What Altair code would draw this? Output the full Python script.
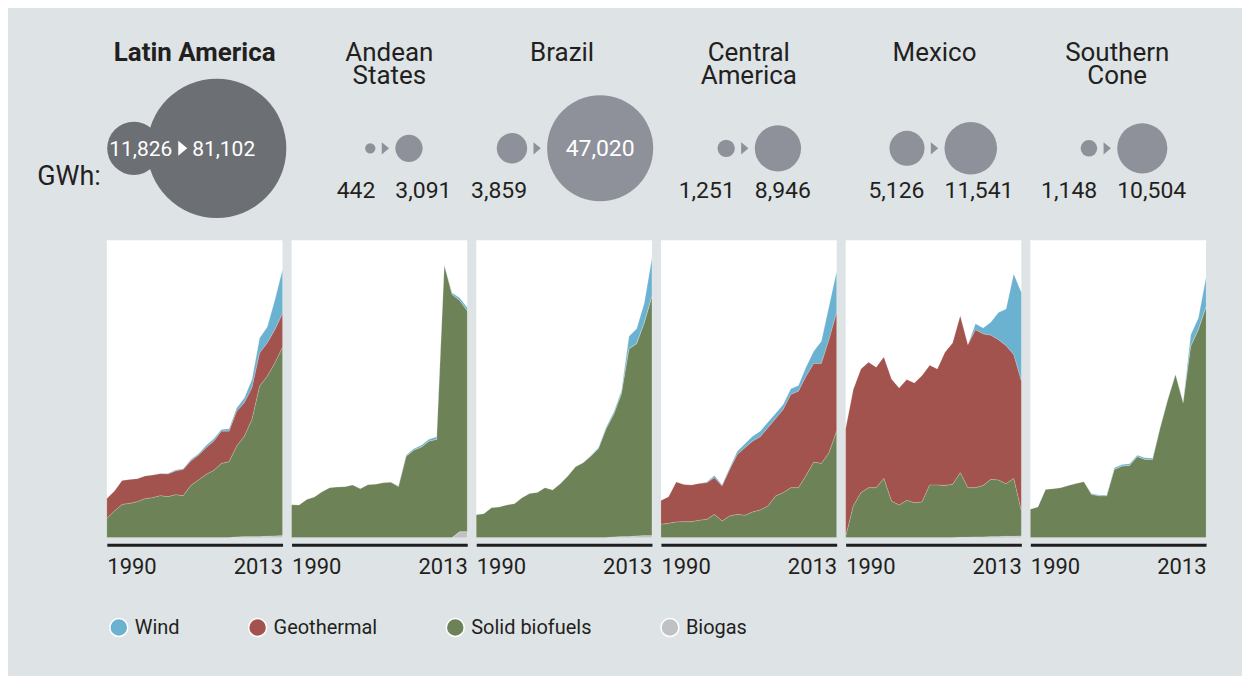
import math
import altair as alt
import pandas as pd

FONT = "Roboto"
TEXT = "#231f20"
BG = "#dee3e6"

years = list(range(1990, 2014))
regions = ["Latin America", "Andean States", "Brazil", "Central America", "Mexico", "Southern Cone"]
titles = ["Latin America", "Andean\nStates", "Brazil", "Central\nAmerica", "Mexico", "Southern\nCone"]
sources = ["Wind", "Geothermal", "Solid biofuels", "Biogas"]
source_colors = ["#6bb2d1", "#a2534d", "#6d8257", "#c0c1c5"]
stack_rank = {"Biogas": 0, "Solid biofuels": 1, "Geothermal": 2, "Wind": 3}

gwh_1990 = [11826, 442, 3859, 1251, 5126, 1148]
gwh_2013 = [81102, 3091, 47020, 8946, 11541, 10504]
y_domain_max = [90000, 4000, 50000, 10000, 14000, 12000]

# ---- Latin America (GWh) ----
la_biofuels = [5830, 8060, 10070, 10370, 10880, 11780, 12080, 12690, 12390, 12990, 12690, 15810,
               17420, 19130, 20340, 22460, 22960, 27490, 30410, 35450, 45520, 48440, 52360, 57000]
la_geothermal = [5996, 6040, 7250, 7250, 6950, 6850, 6850, 6650, 6850, 7150, 7960, 7350,
                 7550, 8060, 8860, 9770, 9260, 10570, 10070, 9570, 10070, 10070, 10070, 10200]
la_wind = [0, 0, 0, 0, 0, 0, 0, 100, 200, 300, 200, 500,
           400, 700, 700, 500, 700, 1000, 1500, 2500, 4530, 4830, 9060, 13302]
la_biogas = [0, 0, 0, 0, 0, 0, 0, 0, 0, 0, 0, 0,
             0, 0, 0, 0, 0, 200, 300, 300, 300, 400, 500, 600]

# ---- Andean States ----
and_biofuels = [442, 440, 515, 546, 617, 671, 680, 685, 707, 658, 711, 720,
                 738, 745, 685, 1090, 1175, 1215, 1295, 1320, 3660, 3270, 3110, 2966]
and_geothermal = [0] * 24
and_wind = [0, 0, 0, 0, 0, 0, 0, 0, 0, 0, 0, 0,
            0, 5, 10, 18, 22, 27, 27, 36, 5, 22, 36, 45]
and_biogas = [0, 0, 0, 0, 0, 0, 0, 0, 0, 0, 0, 0,
              0, 0, 0, 0, 0, 0, 0, 0, 0, 0, 80, 80]

# ---- Brazil ----
bra_biofuels = [3859, 4027, 5034, 5146, 5481, 5705, 6712, 7439, 7606, 8390, 7998, 9061,
                10347, 11913, 12584, 13703, 14933, 18289, 20582, 23938, 31545, 32327, 35739, 40192]
bra_geothermal = [0] * 24
bra_wind = [0, 0, 0, 0, 0, 0, 0, 0, 0, 0, 0, 0,
            0, 0, 0, 90, 240, 280, 447, 559, 2125, 2517, 3356, 6488]
bra_biogas = [0, 0, 0, 0, 0, 0, 0, 0, 0, 0, 0, 0,
              0, 0, 0, 0, 0, 0, 110, 170, 170, 280, 340, 340]

# ---- Central America ----
ca_biofuels = [448, 481, 526, 537, 537, 582, 615, 783, 560, 727, 783, 750,
               862, 929, 1063, 1399, 1511, 1679, 1679, 2093, 2540, 2495, 2853, 3575]
ca_geothermal = [803, 895, 1343, 1253, 1231, 1242, 1231, 1231, 1175, 1567, 2014, 2272,
                 2383, 2462, 2630, 2596, 2798, 3133, 3245, 3335, 3312, 3357, 3805, 3995]
ca_wind = [0, 0, 0, 0, 0, 0, 22, 78, 34, 56, 112, 134,
           168, 190, 190, 179, 168, 190, 190, 313, 414, 750, 1119, 1376]
ca_biogas = [0] * 24

# ---- Mexico ----
mex_biofuels = [31, 1488, 2114, 2349, 2349, 2787, 1723, 1535, 1754, 1644, 1676, 2474,
                2474, 2459, 2506, 3038, 2333, 2318, 2427, 2694, 2662, 2474, 2725, 1175]
mex_geothermal = [5095, 5481, 5825, 5904, 5669, 5716, 5747, 5512, 5685, 5638, 5951, 5638,
                  5465, 6264, 6656, 7392, 6734, 7439, 7125, 6781, 6609, 6499, 5825, 6107]
mex_wind = [0, 0, 0, 0, 0, 0, 0, 0, 0, 0, 0, 0,
            0, 0, 0, 0, 0, 282, 282, 611, 1284, 1723, 3790, 4181]
mex_biogas = [0, 0, 0, 0, 0, 0, 0, 0, 0, 0, 0, 0,
              0, 0, 0, 16, 16, 31, 31, 47, 47, 63, 63, 78]

# ---- Southern Cone ----
sc_biofuels = [1148, 1235, 1946, 1973, 2013, 2107, 2187, 2255, 1745, 1678, 1678, 2751,
               2885, 2912, 3261, 3154, 3154, 4429, 5569, 6576, 5435, 7717, 8388, 9296]
sc_geothermal = [0] * 24
sc_wind = [0, 0, 0, 0, 0, 0, 0, 0, 40, 40, 40, 67,
           67, 67, 67, 67, 54, 40, 27, 27, 40, 470, 470, 1208]
sc_biogas = [0] * 24

series = {
    "Latin America": {"Wind": la_wind, "Geothermal": la_geothermal, "Solid biofuels": la_biofuels, "Biogas": la_biogas},
    "Andean States": {"Wind": and_wind, "Geothermal": and_geothermal, "Solid biofuels": and_biofuels, "Biogas": and_biogas},
    "Brazil": {"Wind": bra_wind, "Geothermal": bra_geothermal, "Solid biofuels": bra_biofuels, "Biogas": bra_biogas},
    "Central America": {"Wind": ca_wind, "Geothermal": ca_geothermal, "Solid biofuels": ca_biofuels, "Biogas": ca_biogas},
    "Mexico": {"Wind": mex_wind, "Geothermal": mex_geothermal, "Solid biofuels": mex_biofuels, "Biogas": mex_biogas},
    "Southern Cone": {"Wind": sc_wind, "Geothermal": sc_geothermal, "Solid biofuels": sc_biofuels, "Biogas": sc_biogas},
}

rows = []
for reg in regions:
    for src in sources:
        for yr, v in zip(years, series[reg][src]):
            rows.append({"region": reg, "source": src, "year": yr, "gwh": v, "rank": stack_rank[src]})
df = pd.DataFrame(rows)

# ---- layout ----
W, HH, AH = 176, 208, 298
K = 0.245                          # px radius per sqrt(GWh)
SIZE_MAX = 4 * K * K * max(gwh_2013)
title_x = [88, 98, 86, 88, 89, 87]
arrow_x = [76, 94, 61, 84, 89, 77]
CIRCLE_Y = 124
LABEL_Y = 174
ARROW = "M-0.6,-1L0.6,0L-0.6,1Z"

size_scale = alt.Scale(domain=[0, max(gwh_2013)], range=[0, SIZE_MAX])


def header(i):
    v1, v2 = gwh_1990[i], gwh_2013[i]
    r1, r2 = K * math.sqrt(v1), K * math.sqrt(v2)
    a = arrow_x[i]
    if i == 0:
        c1, c2 = 27, 110
        fill = "#6c6f73"
    else:
        c1, c2 = a - 10 - r1, a + 10 + r2
        fill = "#8e9199"
    circ = pd.DataFrame({"cx": [c1, c2], "v": [v1, v2]})
    layers = []
    layers.append(
        alt.Chart(circ).mark_circle(opacity=1, color=fill).encode(
            x=alt.X("cx:Q", scale=None, axis=None),
            y=alt.value(CIRCLE_Y),
            size=alt.Size("v:Q", scale=size_scale, legend=None),
        )
    )
    arrow_df = pd.DataFrame({"ax": [a]})
    layers.append(
        alt.Chart(arrow_df).mark_point(
            shape=ARROW, filled=True, opacity=1,
            color="white" if i == 0 else fill,
            size=225 if i == 0 else 150,
        ).encode(x=alt.X("ax:Q", scale=None, axis=None), y=alt.value(CIRCLE_Y))
    )
    # title
    layers.append(
        alt.Chart(pd.DataFrame({"t": [titles[i]]})).mark_text(
            font=FONT, fontSize=26, fontWeight="bold" if i == 0 else "normal",
            color=TEXT, align="center", baseline="alphabetic", lineBreak="\n", lineHeight=23,
        ).encode(text="t:N", x=alt.value(title_x[i]), y=alt.value(37))
    )
    if i == 0:
        lab = pd.DataFrame({"lx": [34, 117], "v": [v1, v2]})
        layers.append(
            alt.Chart(lab).mark_text(font=FONT, fontSize=21, color="white", align="center",
                                     baseline="alphabetic").encode(
                x=alt.X("lx:Q", scale=None, axis=None), y=alt.value(CIRCLE_Y + 8),
                text=alt.Text("v:Q", format=","))
        )
        layers.append(
            alt.Chart(pd.DataFrame({"t": ["GWh:"]})).mark_text(
                font=FONT, fontSize=27, color=TEXT, align="right", baseline="alphabetic"
            ).encode(text="t:N", x=alt.value(-6), y=alt.value(161))
        )
    else:
        left = pd.DataFrame({"lx": [a - 10], "v": [v1]})
        layers.append(
            alt.Chart(left).mark_text(font=FONT, fontSize=23, color=TEXT, align="right",
                                      baseline="alphabetic").encode(
                x=alt.X("lx:Q", scale=None, axis=None), y=alt.value(LABEL_Y),
                text=alt.Text("v:Q", format=","))
        )
        if i == 2:
            right = pd.DataFrame({"lx": [c2], "v": [v2]})
            layers.append(
                alt.Chart(right).mark_text(font=FONT, fontSize=23, color="white", align="center",
                                           baseline="alphabetic").encode(
                    x=alt.X("lx:Q", scale=None, axis=None), y=alt.value(CIRCLE_Y + 8),
                    text=alt.Text("v:Q", format=","))
            )
        else:
            right = pd.DataFrame({"lx": [a + 10], "v": [v2]})
            layers.append(
                alt.Chart(right).mark_text(font=FONT, fontSize=23, color=TEXT, align="left",
                                           baseline="alphabetic").encode(
                    x=alt.X("lx:Q", scale=None, axis=None), y=alt.value(LABEL_Y),
                    text=alt.Text("v:Q", format=","))
            )
    return alt.layer(*layers).properties(width=W, height=HH, view=alt.ViewBackground(strokeWidth=0))


legend = alt.Legend(
    orient="none", legendX=2, legendY=594, direction="horizontal", title=None,
    symbolType="circle", symbolSize=324, symbolOpacity=1, symbolStrokeColor="white",
    symbolStrokeWidth=1.5, labelFont=FONT, labelFontSize=20, labelColor=TEXT,
    columnPadding=66, labelOffset=6,
)


def area(i):
    reg = regions[i]
    return alt.Chart(df[df.region == reg]).mark_area(
        stroke="white", strokeWidth=0.5, strokeOpacity=0.35, opacity=1
    ).encode(
        x=alt.X("year:Q", scale=alt.Scale(domain=[1990, 2013], nice=False, zero=False),
                axis=alt.Axis(values=[1990, 2013], format="d", labelFlush=True, ticks=False,
                              grid=False, domainColor="#1e1e1e", domainWidth=3, offset=7,
                              labelFont=FONT, labelFontSize=22, labelColor=TEXT, labelPadding=12,
                              title=None)),
        y=alt.Y("gwh:Q", stack="zero", axis=None,
                scale=alt.Scale(domain=[0, y_domain_max[i]], nice=False)),
        color=alt.Color("source:N", scale=alt.Scale(domain=sources, range=source_colors), legend=legend),
        order=alt.Order("rank:Q", sort="ascending"),
    ).properties(width=W, height=AH, view=alt.ViewBackground(fill="white", strokeWidth=0))


cells = [header(i) for i in range(6)] + [area(i) for i in range(6)]

chart = alt.concat(*cells, columns=6, spacing={"row": 8, "column": 9}, bounds="flush").properties(
    padding={"left": 29, "top": 16, "right": 35, "bottom": 36},
    background=BG,
).configure_view(strokeWidth=0)

chart.save("out.html", embed_options={"renderer": "svg", "actions": False})
